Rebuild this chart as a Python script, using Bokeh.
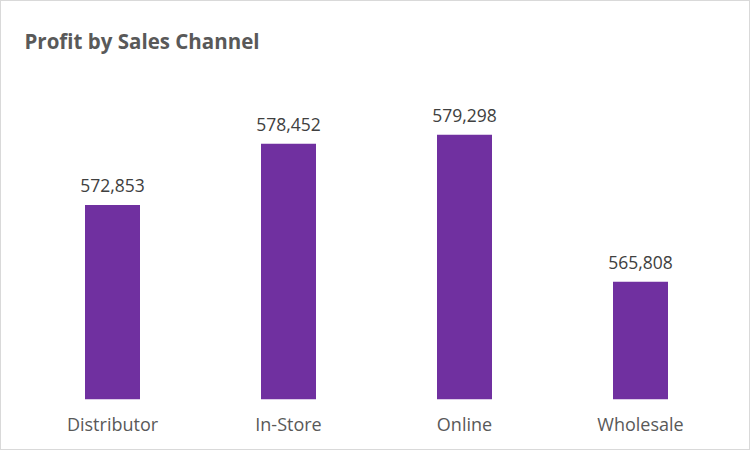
from bokeh.plotting import figure
from bokeh.models import ColumnDataSource, Range1d, FactorRange, LabelSet
from bokeh.core.properties import value
from bokeh.embed import file_html
from bokeh.resources import INLINE

channels = ["Distributor", "In-Store", "Online", "Wholesale"]
profit = [572853, 578452, 579298, 565808]
labels = [f"{v:,}" for v in profit]

source = ColumnDataSource(data=dict(channel=channels, profit=profit, label=labels))

p = figure(
    width=750, height=450,
    x_range=FactorRange(*channels, range_padding=0),
    y_range=Range1d(555000, 585000),
    output_backend="svg", toolbar_location=None,
    min_border_left=23, min_border_right=23, min_border_top=71, min_border_bottom=52,
)
p.styles = {"border": "1px solid #d9d9d9"}

p.title.text = "Profit by Sales Channel"
p.title.text_font = "Open Sans"
p.title.text_font_size = "20.5px"
p.title.text_font_style = "bold"
p.title.text_color = "#595959"
p.title.align = "left"
p.title.offset = 0
p.title.standoff = 36

p.vbar(x="channel", top="profit", bottom=555000, width=0.3125, source=source,
       fill_color="#7030A0", line_color=None)

lbl = LabelSet(x="channel", y="profit", text="label", source=source,
               text_align="center", text_baseline="bottom", y_offset=13,
               text_font=value("Open Sans"), text_font_size="17.5px", text_color="#404040")
p.add_layout(lbl)

p.yaxis.visible = False
p.xaxis.axis_line_color = None
p.xaxis.major_tick_line_color = None
p.xaxis.minor_tick_line_color = None
p.xaxis.major_label_text_font = "Open Sans"
p.xaxis.major_label_text_font_size = "18px"
p.xaxis.major_label_text_color = "#595959"
p.xaxis.major_label_standoff = 6
p.xgrid.visible = False
p.ygrid.visible = False
p.outline_line_color = None
p.background_fill_color = "white"
p.border_fill_color = "white"

open("out.html", "w").write(file_html(p, INLINE))
